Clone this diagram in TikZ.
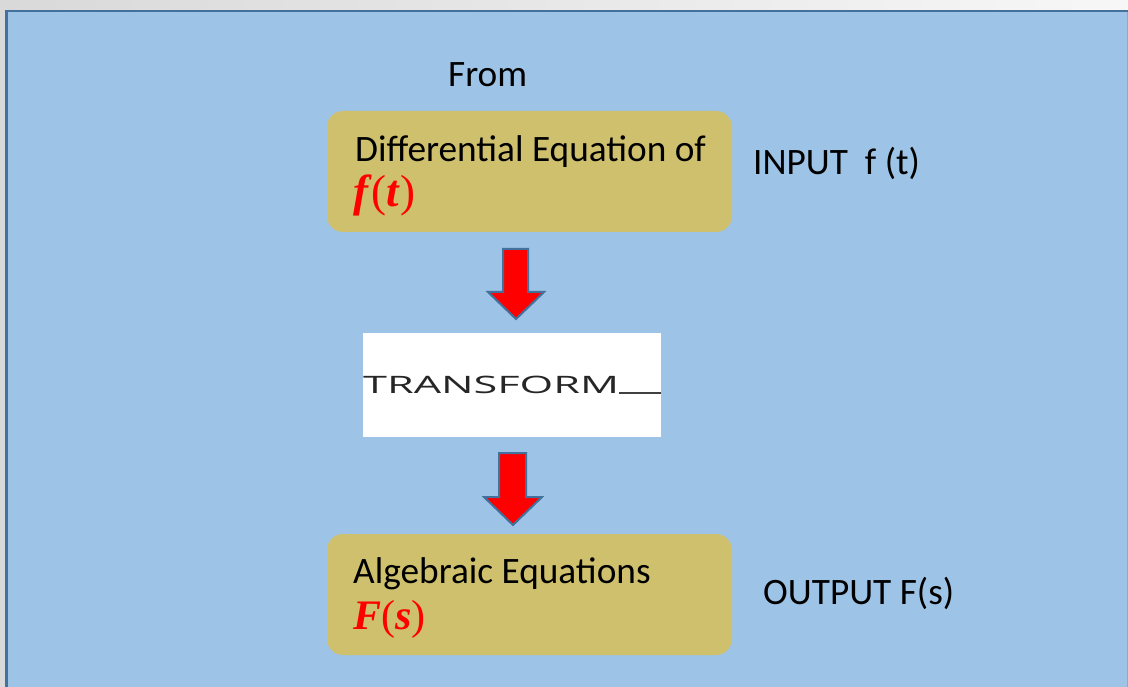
\documentclass[tikz,border=0pt]{standalone}
\usepackage{fontspec}
\setmainfont{Carlito}
\newfontfamily\mathser{Liberation Serif}
\newfontfamily\trf[FakeStretch=1.8]{Open Sans}
\definecolor{bgblue}{HTML}{9DC3E6}
\definecolor{edgeblue}{HTML}{41719C}
\definecolor{boxgold}{HTML}{CFC06E}
\definecolor{redmath}{HTML}{FF0000}
\definecolor{graya}{HTML}{D9D9D9}
\definecolor{grayb}{HTML}{F7F7F7}
\begin{document}
\begin{tikzpicture}[x=1pt,y=-1pt,
  lbl/.style={anchor=base west,inner sep=0pt,font=\fontsize{37.3}{40}\selectfont},
  mth/.style={anchor=base west,inner sep=0pt,text=redmath,font=\mathser\bfseries\itshape},
  goldbox/.style={fill=boxgold,draw=none,rounded corners=16pt},
  blockarrow/.style={fill=red,draw=edgeblue,line width=2pt,line join=miter}]
\useasboundingbox (0,0) rectangle (1128,687);
% top grey band
\shade[left color=graya,right color=grayb] (0,0) rectangle (1128,10);
\fill[graya] (0,10) rectangle (6,687);
% blue panel
\fill[bgblue] (6,10) rectangle (1128,687);
\draw[edgeblue,line width=2.5pt] (6.5,687) -- (6.5,11) -- (1128,11);
\draw[edgeblue!60,line width=1pt] (1127.5,12) -- (1127.5,687);
% boxes
\fill[goldbox] (327,111) rectangle (732,232);
\fill[goldbox] (327,534) rectangle (732,655);
% texts
\node[lbl] (from) at (448,87) {From};
\node[lbl] (diff) at (355,162) {Differential Equation of};
\node[mth,font=\fontsize{45}{48}\selectfont\mathser\bfseries\itshape] (ft) at (353,207) {f\textup{\mdseries(}t\textup{\mdseries)}};
\node[lbl] (input) at (753,175) {INPUT\ \ f (t)};
\node[lbl] (alg) at (353,583) {Algebraic Equations};
\node[mth,font=\fontsize{42}{46}\selectfont\mathser\bfseries\itshape] (Fs) at (353,629) {F\textup{\mdseries(}s\textup{\mdseries)}};
\node[lbl] (output) at (763,604) {OUTPUT F(s)};
% transform box
\fill[white] (363,333) rectangle (661,437);
\node[anchor=base west,inner sep=0pt,text=black!85,font=\fontsize{24}{28}\selectfont\trf] (trans) at (363,393) {TRANSFORM};
\draw[black!75,line width=1.6pt] (trans.base east) -- (661,393);
% block arrows
\draw[blockarrow] (503,249) -- (528,249) -- (528,292) -- (544,292) -- (516,319) -- (488,292) -- (503,292) -- cycle;
\draw[blockarrow] (499,453) -- (526,453) -- (526,497) -- (542,497) -- (513,525) -- (484,497) -- (499,497) -- cycle;
\end{tikzpicture}
\end{document}
